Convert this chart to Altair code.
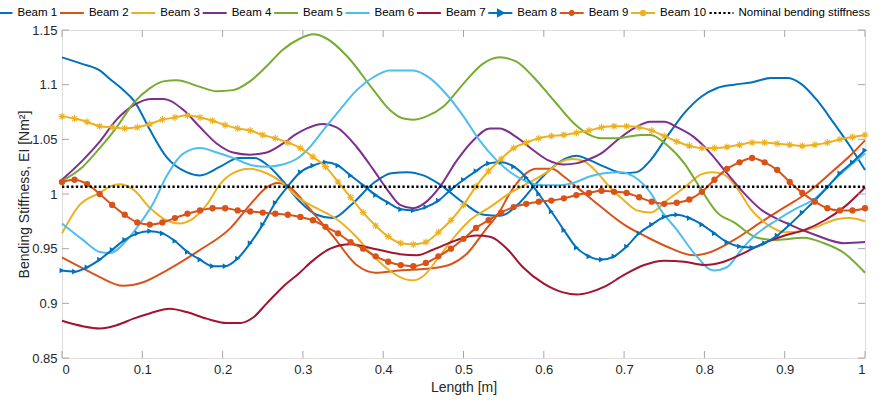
import altair as alt
import pandas as pd

names = ["Beam 1", "Beam 2", "Beam 3", "Beam 4", "Beam 5", "Beam 6", "Beam 7",
         "Beam 8", "Beam 9", "Beam 10", "Nominal bending stiffness"]
colors = ["#0072BD", "#D95319", "#EDB120", "#7E2F8E", "#77AC30", "#4DBEEE", "#A2142F",
          "#0072BD", "#D95319", "#EDB120", "#000000"]

# ---- Beams 1-7 (lines only) ----
b1_x = [0, 0.025, 0.047, 0.06, 0.075, 0.09, 0.11, 0.13, 0.155, 0.172, 0.197, 0.22, 0.24, 0.255, 0.275,
        0.295, 0.317, 0.337, 0.36, 0.388, 0.41, 0.43, 0.45, 0.47, 0.5, 0.525, 0.545, 0.57, 0.591, 0.612,
        0.629, 0.641, 0.657, 0.675, 0.70, 0.716, 0.733, 0.753, 0.775, 0.796, 0.816, 0.837, 0.858, 0.883,
        0.903, 0.92, 0.94, 0.961, 0.982, 1.0]
b1_y = [1.125, 1.119, 1.113, 1.105, 1.096, 1.085, 1.058, 1.034, 1.020, 1.017, 1.025, 1.033, 1.033, 1.027, 1.012,
        0.994, 0.981, 0.978, 0.990, 1.010, 1.019, 1.020, 1.017, 1.009, 0.992, 0.981, 0.980, 0.992, 1.010, 1.025,
        1.033, 1.035, 1.031, 1.025, 1.019, 1.020, 1.031, 1.052, 1.074, 1.089, 1.097, 1.100, 1.102, 1.106,
        1.106, 1.101, 1.086, 1.065, 1.043, 1.022]

b2_x = [0, 0.026, 0.047, 0.076, 0.1, 0.13, 0.17, 0.21, 0.234, 0.255, 0.268, 0.28, 0.3, 0.317, 0.337, 0.367,
        0.39, 0.42, 0.46, 0.485, 0.505, 0.525, 0.545, 0.558, 0.575, 0.59, 0.61, 0.625, 0.645, 0.67, 0.70,
        0.73, 0.753, 0.787, 0.808, 0.837, 0.87, 0.9, 0.92, 0.94, 0.96, 0.98, 1.0]
b2_y = [0.942, 0.932, 0.924, 0.916, 0.919, 0.930, 0.948, 0.969, 0.990, 1.006, 1.010, 1.008, 0.994, 0.979, 0.962,
        0.935, 0.928, 0.930, 0.932, 0.936, 0.946, 0.965, 0.984, 1.001, 1.017, 1.023, 1.023, 1.016, 1.004, 0.989,
        0.972, 0.960, 0.952, 0.944, 0.947, 0.958, 0.974, 0.988, 0.997, 1.008, 1.021, 1.034, 1.049]

b3_x = [0, 0.022, 0.047, 0.06, 0.072, 0.089, 0.11, 0.13, 0.147, 0.16, 0.18, 0.197, 0.213, 0.234, 0.255, 0.275,
        0.292, 0.317, 0.34, 0.365, 0.388, 0.408, 0.421, 0.437, 0.45, 0.47, 0.49, 0.508, 0.533, 0.558, 0.583,
        0.604, 0.62, 0.635, 0.65, 0.666, 0.68, 0.70, 0.716, 0.733, 0.753, 0.775, 0.796, 0.81, 0.824, 0.84,
        0.858, 0.883, 0.90, 0.92, 0.94, 0.965, 0.98, 1.0]
b3_y = [0.964, 0.990, 1.001, 1.007, 1.009, 1.004, 0.987, 0.976, 0.973, 0.976, 0.990, 1.009, 1.019, 1.023, 1.019, 1.010,
        0.998, 0.987, 0.978, 0.962, 0.943, 0.930, 0.924, 0.921, 0.925, 0.943, 0.962, 0.976, 0.988, 1.001, 1.011,
        1.020, 1.029, 1.032, 1.030, 1.020, 1.008, 0.994, 0.985, 0.983, 0.994, 1.006, 1.018, 1.020, 1.018, 1.006,
        0.986, 0.970, 0.965, 0.966, 0.970, 0.977, 0.978, 0.975]

b4_x = [0, 0.026, 0.047, 0.068, 0.089, 0.11, 0.126, 0.151, 0.172, 0.193, 0.213, 0.234, 0.255, 0.275, 0.29,
        0.305, 0.325, 0.342, 0.367, 0.388, 0.408, 0.421, 0.437, 0.454, 0.47, 0.492, 0.512, 0.533, 0.545, 0.566,
        0.587, 0.605, 0.625, 0.64, 0.657, 0.671, 0.691, 0.712, 0.733, 0.75, 0.766, 0.787, 0.808, 0.828, 0.849,
        0.87, 0.9, 0.94, 0.974, 1.0]
b4_y = [1.013, 1.031, 1.048, 1.068, 1.081, 1.087, 1.087, 1.077, 1.061, 1.046, 1.038, 1.036, 1.038, 1.046, 1.054,
        1.060, 1.064, 1.061, 1.043, 1.022, 1.001, 0.990, 0.987, 0.993, 1.006, 1.031, 1.049, 1.060, 1.060, 1.052,
        1.040, 1.031, 1.027, 1.028, 1.032, 1.037, 1.049, 1.060, 1.066, 1.066, 1.061, 1.052, 1.037, 1.019, 1.001,
        0.986, 0.974, 0.962, 0.955, 0.956]

b5_x = [0, 0.026, 0.047, 0.068, 0.089, 0.11, 0.126, 0.143, 0.172, 0.193, 0.213, 0.234, 0.255, 0.275, 0.296,
        0.313, 0.33, 0.355, 0.388, 0.408, 0.425, 0.437, 0.454, 0.475, 0.5, 0.524, 0.545, 0.566, 0.587, 0.612,
        0.637, 0.657, 0.671, 0.691, 0.721, 0.733, 0.753, 0.775, 0.796, 0.816, 0.837, 0.866, 0.89, 0.924, 0.949,
        0.974, 1.0]
b5_y = [1.012, 1.025, 1.042, 1.061, 1.083, 1.097, 1.103, 1.104, 1.098, 1.094, 1.095, 1.103, 1.117, 1.132, 1.142,
        1.146, 1.142, 1.126, 1.095, 1.077, 1.069, 1.068, 1.071, 1.080, 1.101, 1.119, 1.125, 1.121, 1.107, 1.086,
        1.065, 1.054, 1.051, 1.051, 1.054, 1.054, 1.045, 1.028, 1.004, 0.983, 0.974, 0.960, 0.958, 0.960, 0.955,
        0.946, 0.928]

b6_x = [0, 0.026, 0.047, 0.06, 0.081, 0.097, 0.114, 0.13, 0.151, 0.172, 0.193, 0.213, 0.238, 0.255, 0.275,
        0.296, 0.305, 0.325, 0.346, 0.367, 0.388, 0.408, 0.437, 0.458, 0.479, 0.5, 0.52, 0.541, 0.56, 0.58,
        0.6, 0.62, 0.64, 0.657, 0.675, 0.696, 0.712, 0.733, 0.746, 0.766, 0.787, 0.812, 0.828, 0.846, 0.866,
        0.89, 0.915, 0.936, 0.96, 0.98, 1.0]
b6_y = [0.973, 0.958, 0.947, 0.946, 0.958, 0.973, 0.992, 1.016, 1.037, 1.042, 1.038, 1.033, 1.026, 1.025, 1.027,
        1.034, 1.040, 1.058, 1.077, 1.095, 1.107, 1.113, 1.113, 1.106, 1.091, 1.071, 1.049, 1.031, 1.019, 1.011,
        1.008, 1.008, 1.011, 1.016, 1.019, 1.020, 1.016, 1.001, 0.985, 0.967, 0.946, 0.930, 0.933, 0.949, 0.964,
        0.976, 0.987, 0.995, 1.012, 1.025, 1.037]

b7_x = [0, 0.026, 0.047, 0.068, 0.089, 0.11, 0.134, 0.155, 0.18, 0.205, 0.222, 0.238, 0.255, 0.275, 0.296,
        0.309, 0.334, 0.359, 0.388, 0.421, 0.442, 0.462, 0.492, 0.516, 0.533, 0.554, 0.574, 0.6, 0.624, 0.641,
        0.657, 0.675, 0.70, 0.725, 0.75, 0.775, 0.8, 0.824, 0.849, 0.874, 0.9, 0.924, 0.95, 0.974, 1.0]
b7_y = [0.884, 0.879, 0.877, 0.880, 0.886, 0.891, 0.895, 0.892, 0.886, 0.882, 0.882, 0.887, 0.900, 0.915, 0.928,
        0.937, 0.950, 0.954, 0.950, 0.945, 0.944, 0.949, 0.958, 0.962, 0.961, 0.950, 0.933, 0.918, 0.910, 0.908,
        0.910, 0.915, 0.926, 0.935, 0.939, 0.938, 0.935, 0.938, 0.946, 0.955, 0.962, 0.967, 0.976, 0.988, 1.006]

# ---- Beams 8-10 (lines with a marker at every sample, 65 samples) ----
grid_x = [k / 64 for k in range(65)]
b8_y = [0.930, 0.929, 0.933, 0.940, 0.949, 0.958, 0.964, 0.966, 0.964, 0.957, 0.947, 0.940, 0.934, 0.934, 0.941,
        0.955, 0.972, 0.992, 1.007, 1.020, 1.026, 1.029, 1.026, 1.017, 1.008, 0.999, 0.992, 0.986, 0.985, 0.988,
        0.994, 1.004, 1.013, 1.021, 1.028, 1.029, 1.025, 1.015, 1.000, 0.984, 0.967, 0.951, 0.943, 0.940, 0.943,
        0.952, 0.964, 0.972, 0.979, 0.981, 0.978, 0.972, 0.964, 0.956, 0.952, 0.951, 0.955, 0.962, 0.972, 0.983,
        0.994, 1.006, 1.019, 1.029, 1.040]
b9_y = [1.011, 1.013, 1.009, 1.000, 0.990, 0.981, 0.974, 0.972, 0.974, 0.978, 0.982, 0.985, 0.987, 0.987, 0.985,
        0.984, 0.983, 0.982, 0.981, 0.979, 0.976, 0.970, 0.964, 0.956, 0.950, 0.943, 0.938, 0.935, 0.934, 0.937,
        0.943, 0.950, 0.959, 0.969, 0.976, 0.983, 0.988, 0.991, 0.993, 0.994, 0.996, 0.999, 1.001, 1.003, 1.002,
        1.001, 0.997, 0.993, 0.991, 0.992, 0.995, 1.002, 1.013, 1.023, 1.029, 1.033, 1.029, 1.022, 1.011, 1.001,
        0.993, 0.987, 0.985, 0.985, 0.987]
b10_y = [1.071, 1.069, 1.066, 1.062, 1.061, 1.060, 1.061, 1.064, 1.068, 1.070, 1.072, 1.070, 1.067, 1.063, 1.060,
         1.058, 1.054, 1.051, 1.047, 1.042, 1.034, 1.025, 1.011, 0.997, 0.983, 0.971, 0.961, 0.955, 0.954, 0.956,
         0.965, 0.976, 0.990, 1.007, 1.021, 1.032, 1.042, 1.047, 1.051, 1.053, 1.054, 1.056, 1.058, 1.061, 1.062,
         1.062, 1.061, 1.058, 1.053, 1.048, 1.044, 1.042, 1.042, 1.043, 1.045, 1.047, 1.047, 1.046, 1.045, 1.044,
         1.045, 1.047, 1.050, 1.052, 1.054]

nominal_x = [0, 1]
nominal_y = [1.0067, 1.0067]

x_ticks = [0, 0.1, 0.2, 0.3, 0.4, 0.5, 0.6, 0.7, 0.8, 0.9, 1]
y_ticks = [0.85, 0.9, 0.95, 1, 1.05, 1.1, 1.15]

series_xy = [(b1_x, b1_y), (b2_x, b2_y), (b3_x, b3_y), (b4_x, b4_y), (b5_x, b5_y), (b6_x, b6_y),
             (b7_x, b7_y), (grid_x, b8_y), (grid_x, b9_y), (grid_x, b10_y), (nominal_x, nominal_y)]

W, H = 803, 328
FONT = "Liberation Sans"
AX_GRAY = "#a6a6a6"
TXT = "#262626"

xs = alt.Scale(domain=[0, 1], nice=False, zero=False)
ys = alt.Scale(domain=[0.85, 1.15], nice=False, zero=False)
x_axis = alt.Axis(values=x_ticks, format=".1~f", title="Length [m]", ticks=False, domain=False,
                  grid=False, labelPadding=5, titlePadding=4, labelFontSize=13, titleFontSize=14,
                  labelFont=FONT, titleFont=FONT, labelColor=TXT, titleColor=TXT, titleFontWeight="normal")
y_axis = alt.Axis(values=y_ticks, format=".2~f", title="Bending Stiffness, EI [Nm²]", ticks=False,
                  domain=False, grid=False, labelPadding=5, titlePadding=0, labelFontSize=13,
                  titleFontSize=14, labelFont=FONT, titleFont=FONT, labelColor=TXT, titleColor=TXT,
                  titleFontWeight="normal")


def X(field="x"):
    return alt.X(f"{field}:Q", scale=xs, axis=x_axis)


def Y(field="y"):
    return alt.Y(f"{field}:Q", scale=ys, axis=y_axis)


layers = []
marker_spec = {
    7: dict(shape="triangle-right", filled=True, size=32),
    8: dict(shape="circle", filled=True, size=40),
    9: dict(shape="M-1,0L1,0M0,-1L0,1M-0.7,-0.7L0.7,0.7M-0.7,0.7L0.7,-0.7", filled=False, size=50,
            strokeWidth=1.1),
}
for i, (xv, yv) in enumerate(series_xy):
    df = pd.DataFrame({"x": xv, "y": yv, "series": names[i]})
    if i == 10:
        line = alt.Chart(df).mark_line(color=colors[i], strokeWidth=2.6, strokeDash=[2.3, 2.3]).encode(
            x=X(), y=Y())
        layers.append(line)
        continue
    line = alt.Chart(df).mark_line(color=colors[i], strokeWidth=2, interpolate="monotone").encode(
        x=X(), y=Y())
    layers.append(line)
    if i in marker_spec:
        spec = marker_spec[i]
        pts = alt.Chart(df).mark_point(color=colors[i], opacity=1, **spec).encode(x=X(), y=Y())
        layers.append(pts)

# inward tick marks (MATLAB style, on all four sides)
xt = pd.DataFrame({"v": x_ticks})
yt = pd.DataFrame({"v": y_ticks})
layers.append(alt.Chart(xt).mark_rule(color=AX_GRAY, strokeWidth=1).encode(
    x=X("v"), y=alt.value(H), y2=alt.value(H - 7)))
layers.append(alt.Chart(xt).mark_rule(color=AX_GRAY, strokeWidth=1).encode(
    x=X("v"), y=alt.value(0), y2=alt.value(7)))
layers.append(alt.Chart(yt).mark_rule(color=AX_GRAY, strokeWidth=1).encode(
    y=Y("v"), x=alt.value(0), x2=alt.value(7)))
layers.append(alt.Chart(yt).mark_rule(color=AX_GRAY, strokeWidth=1).encode(
    y=Y("v"), x=alt.value(W), x2=alt.value(W - 7)))

# legend layer (no visible marks, only the legend)
legend_paths = ["M-1,0L1,0"] * 7 + [
    "M-1,0L1,0M-0.2,-0.25L0.25,0L-0.2,0.25Z",
    "M-1,0L1,0M0.17,0A0.17,0.17,0,1,1,-0.17,0A0.17,0.17,0,1,1,0.17,0",
    "M-1,0L1,0M0,-0.27L0,0.27M-0.2,-0.2L0.2,0.2M-0.2,0.2L0.2,-0.2",
    "M-1,0L1,0",
]
dashes = [[1, 0]] * 10 + [[2.3, 2.3]]
leg = alt.Legend(title=None, orient="none", legendX=-74.5, legendY=-30, direction="horizontal",
                 columns=11, gridAlign="none", symbolSize=576, symbolStrokeWidth=2, labelOffset=4,
                 columnPadding=-1.6, labelFont=FONT, labelFontSize=11.5, labelColor="#000000",
                 padding=0, symbolOpacity=1, labelLimit=300)
leg_df = pd.DataFrame({"series": names})
legend_layer = alt.Chart(leg_df).transform_filter("false").mark_point(
    filled=False, opacity=1, strokeWidth=2).encode(
    color=alt.Color("series:N", scale=alt.Scale(domain=names, range=colors), legend=leg),
    shape=alt.Shape("series:N", scale=alt.Scale(domain=names, range=legend_paths), legend=leg),
    strokeDash=alt.StrokeDash("series:N", scale=alt.Scale(domain=names, range=dashes), legend=leg),
)
layers.append(legend_layer)

chart = alt.layer(*layers).properties(
    width=W, height=H,
    padding={"left": 62, "top": 30, "right": 19, "bottom": 43},
    autosize=alt.AutoSizeParams(type="none"),
).configure_view(stroke=AX_GRAY, strokeWidth=1).configure(background="white")

chart.save("out.html", embed_options={"renderer": "svg", "actions": False})
